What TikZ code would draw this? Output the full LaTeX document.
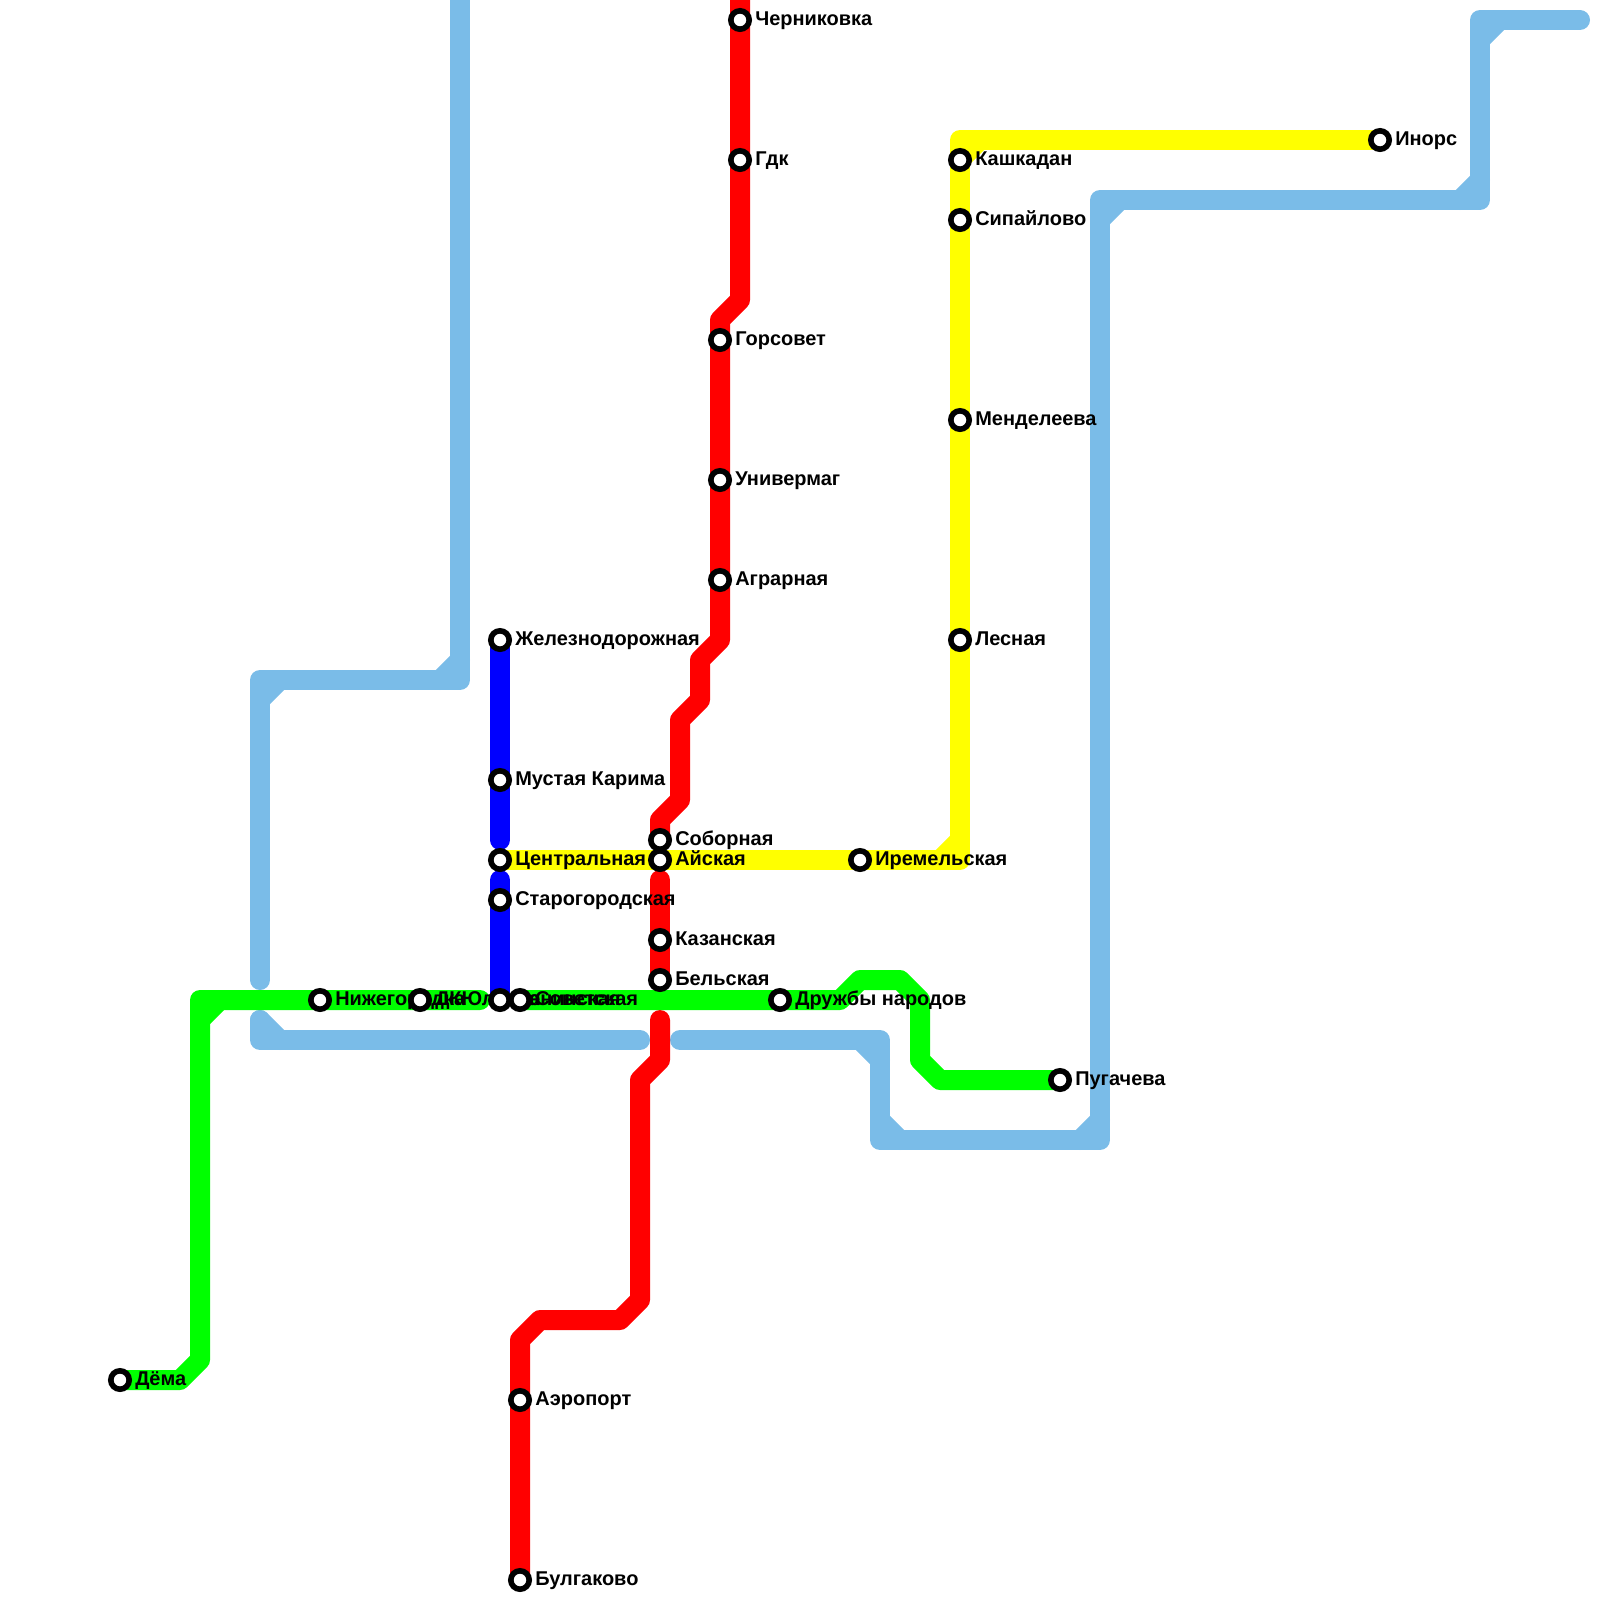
\documentclass[tikz,border=0pt]{standalone}
\usepackage{fontspec}
\setmainfont{Liberation Sans}
\usetikzlibrary{backgrounds}
\definecolor{skyline}{HTML}{7ABCE8}
\definecolor{lineyellow}{RGB}{255,255,0}
\definecolor{linegreen}{RGB}{0,255,0}
\definecolor{linered}{RGB}{255,0,0}
\definecolor{lineblue}{RGB}{0,0,255}
\tikzset{
	metroline/.style={line width=5mm,line cap=round,line join=round},
	redline/.style={metroline,color=linered},
	blueline/.style={metroline,color=lineblue},
	yellowline/.style={metroline,color=lineyellow},
	greenline/.style={metroline,color=linegreen},
	skybranch/.style={metroline,color=skyline},
	stationring/.style={circle,draw=black,fill=white,line width=1.4mm,minimum size=4.6mm,inner sep=0pt},
	stationname/.style={anchor=base west,inner sep=0pt,xshift=3.75mm,yshift=-1.25mm,font=\fontsize{14.2}{17}\selectfont\bfseries}
}
\begin{document}
\begin{tikzpicture}[x=5mm,y=-5mm]
	%\draw[color=gray,step=1,help lines,opacity=0.3] (0,0) grid (80,80); %help grid
	\useasboundingbox (0,0) rectangle (80,80);
	% red
	\node[stationring] (chernikovka) at (37,1) {};
	\node[stationring] (gdk) at (37,8) {};
	\node[stationring] (gorsovet) at (36,17) {};
	\node[stationring] (univermag) at (36,24) {};
	\node[stationring] (agrarnaya) at (36,29) {};
	\node[stationring] (sobornaya) at (33,42) {};
	\node[stationring] (kazanskaya) at (33,47) {};
	\node[stationring] (belskaya) at (33,49) {};
	\node[stationring] (aeroport) at (26,70) {};
	\node[stationring] (bulgakovo) at (26,79) {};
	% blue
	\node[stationring] (zheleznodorozhnaya) at (25,32) {};
	\node[stationring] (mustaya) at (25,39) {};
	\node[stationring] (starogorodskaya) at (25,45) {};
	% yellow
	\node[stationring] (centralnaya) at (25,43) {};
	\node[stationring] (aiskaya) at (33,43) {};
	\node[stationring] (iremelskaya) at (43,43) {};
	\node[stationring] (lesnaya) at (48,32) {};
	\node[stationring] (mendeleeva) at (48,21) {};
	\node[stationring] (sipaylovo) at (48,11) {};
	\node[stationring] (kashkadan) at (48,8) {};
	\node[stationring] (inors) at (69,7) {};
	% green
	\node[stationring] (dyoma) at (6,69) {};
	\node[stationring] (nizhegorodka) at (16,50) {};
	\node[stationring] (yulaeva) at (21,50) {};
	\node[stationring] (leninskaya) at (25,50) {};
	\node[stationring] (sovetskaya) at (26,50) {};
	\node[stationring] (druzhby) at (39,50) {};
	\node[stationring] (pugacheva) at (53,54) {};
	\begin{scope}[on background layer]
		\draw[skybranch] (23,-1)--(23,34)--(13,34)--(13,49);
		\draw[skybranch] (23,33)--(22,34);
		\draw[skybranch] (13,35)--(14,34);
		\draw[skybranch] (13,51)--(13,52)--(32,52);
		\draw[skybranch] (13,51)--(14,52);
		\draw[skybranch] (34,52)--(44,52)--(44,57)--(55,57)--(55,10)--(74,10)--(74,1)--(79,1);
		\draw[skybranch] (43,52)--(44,53);
		\draw[skybranch] (44,56)--(45,57);
		\draw[skybranch] (54,57)--(55,56);
		\draw[skybranch] (55,11)--(56,10);
		\draw[skybranch] (73,10)--(74,9);
		\draw[skybranch] (74,2)--(75,1);
		\draw[redline] (37,-1)--(chernikovka.center)--(gdk.center)--(37,15)--(36,16)--(gorsovet.center)--(univermag.center)--(agrarnaya.center)--(36,32)--(35,33)--(35,35)--(34,36)--(34,40)--(33,41)--(sobornaya.center);
		\draw[redline] (33,44)--(kazanskaya.center)--(belskaya.center);
		\draw[redline] (33,51)--(33,53)--(32,54)--(32,65)--(31,66)--(27,66)--(26,67)--(aeroport.center)--(bulgakovo.center);
		\draw[blueline] (zheleznodorozhnaya.center)--(mustaya.center)--(25,42);
		\draw[blueline] (25,44)--(starogorodskaya.center)--(25,49.6);
		\draw[yellowline] (centralnaya.center)--(aiskaya.center)--(iremelskaya.center)--(48,43)--(lesnaya.center)--(mendeleeva.center)--(sipaylovo.center)--(kashkadan.center)--(48,7)--(inors.center);
		\draw[yellowline] (47,43)--(48,42);
		\draw[yellowline] (48,8)--(49,7);
		\draw[greenline] (dyoma.center)--(9,69)--(10,68)--(10,50)--(24,50);
		\draw[greenline] (10,51)--(11,50);
		\draw[greenline] (sovetskaya.center)--(druzhby.center)--(42,50)--(43,49)--(45,49)--(46,50)--(46,53)--(47,54)--(pugacheva.center);
		\node[stationname] (chernikovkaname) at (chernikovka.center) {Черниковка};
		\node[stationname] (gdkname) at (gdk.center) {Гдк};
		\node[stationname] (gorsovetname) at (gorsovet.center) {Горсовет};
		\node[stationname] (univermagname) at (univermag.center) {Универмаг};
		\node[stationname] (agrarnayaname) at (agrarnaya.center) {Аграрная};
		\node[stationname] (sobornayaname) at (sobornaya.center) {Соборная};
		\node[stationname] (kazanskayaname) at (kazanskaya.center) {Казанская};
		\node[stationname] (belskayaname) at (belskaya.center) {Бельская};
		\node[stationname] (aeroportname) at (aeroport.center) {Аэропорт};
		\node[stationname] (bulgakovoname) at (bulgakovo.center) {Булгаково};
		\node[stationname] (zheleznodorozhnayaname) at (zheleznodorozhnaya.center) {Железнодорожная};
		\node[stationname] (mustayaname) at (mustaya.center) {Мустая Карима};
		\node[stationname] (starogorodskayaname) at (starogorodskaya.center) {Старогородская};
		\node[stationname] (centralnayaname) at (centralnaya.center) {Центральная};
		\node[stationname] (aiskayaname) at (aiskaya.center) {Айская};
		\node[stationname] (iremelskayaname) at (iremelskaya.center) {Иремельская};
		\node[stationname] (lesnayaname) at (lesnaya.center) {Лесная};
		\node[stationname] (mendeleevaname) at (mendeleeva.center) {Менделеева};
		\node[stationname] (sipaylovoname) at (sipaylovo.center) {Сипайлово};
		\node[stationname] (kashkadanname) at (kashkadan.center) {Кашкадан};
		\node[stationname] (inorsname) at (inors.center) {Инорс};
		\node[stationname] (dyomaname) at (dyoma.center) {Дёма};
		\node[stationname] (nizhegorodkaname) at (nizhegorodka.center) {Нижегородка};
		\node[stationname] (yulaevaname) at (yulaeva.center) {ДКЮлаева};
		\node[stationname] (leninskayaname) at (leninskaya.center) {Ленинская};
		\node[stationname] (sovetskayaname) at (sovetskaya.center) {Советская};
		\node[stationname] (druzhbyname) at (druzhby.center) {Дружбы народов};
		\node[stationname] (pugachevaname) at (pugacheva.center) {Пугачева};
	\end{scope}
\end{tikzpicture}
\end{document}
